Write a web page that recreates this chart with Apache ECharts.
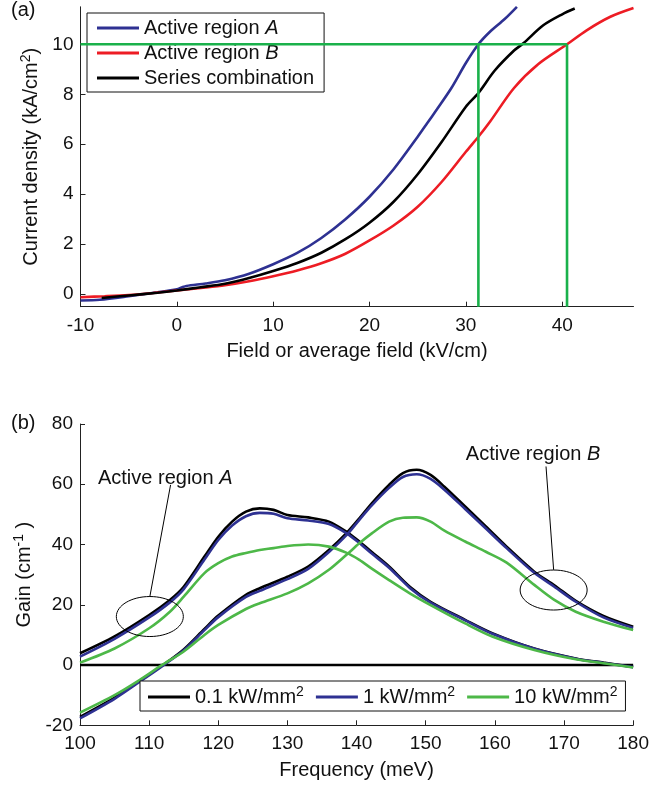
<!DOCTYPE html>
<html>
<head>
<meta charset="utf-8">
<script src="https://cdn.jsdelivr.net/npm/echarts@6/dist/echarts.min.js"></script>
<style>
  html, body { margin: 0; padding: 0; background: #fff; }
  #chart { width: 652px; height: 789px; }
</style>
</head>
<body>
<div id="chart"></div>
<script>
// ---- panel (a): current density vs field ----
const fieldA = [-10, -8, -5, -2, 0, 0.5, 1, 3, 5, 7.5, 10, 12.5, 15, 17.5, 20, 22.5, 25, 26, 27, 28.5, 30, 31.3, 32.5, 34, 35.3]
const currentA = [-0.25, -0.22, -0.08, 0.08, 0.2, 0.27, 0.33, 0.43, 0.56, 0.82, 1.2, 1.65, 2.25, 3.0, 3.9, 5.0, 6.3, 6.85, 7.4, 8.25, 9.25, 10, 10.5, 11.0, 11.5]

const fieldB = [-10, -7.5, -5, -2.5, 0, 2.5, 5, 7.5, 10, 12.5, 15, 17.5, 20, 22.5, 25, 27.5, 30, 31.3, 32.5, 35, 37.5, 40.5, 42.5, 45, 47.4]
const currentB = [-0.12, -0.08, -0.03, 0.05, 0.15, 0.25, 0.36, 0.52, 0.72, 0.95, 1.24, 1.62, 2.15, 2.75, 3.5, 4.5, 5.7, 6.3, 6.9, 8.25, 9.2, 10, 10.55, 11.1, 11.45]

const fieldS = [-7.8, -5, -2, 0, 2.5, 5, 7.5, 10, 12.5, 15, 17.5, 20, 22.5, 25, 27.5, 30, 31.3, 33, 35, 36, 38, 40, 41.3]
const currentS = [-0.15, -0.05, 0.06, 0.15, 0.28, 0.42, 0.65, 0.93, 1.25, 1.66, 2.2, 2.86, 3.7, 4.8, 6.1, 7.5, 8.05, 8.95, 9.75, 10.05, 10.75, 11.2, 11.43]

const guideJ = 10
const guideFields = [31.3, 40.5]

const ticksFieldA = [-10, 0, 10, 20, 30, 40]
const ticksCurrent = [0, 2, 4, 6, 8, 10]

// ---- panel (b): gain spectra ----
const freqA = [100, 105, 110, 113, 115, 118, 120, 122, 124, 126, 128, 130, 133, 136, 138.5, 140.4, 142.2, 144.7, 147.7, 150.7, 155.7, 159.7, 165.7, 171.7, 175.7, 180]
const gainA_01 = [3.9, 9.5, 16.6, 21.6, 26, 36, 42.6, 47.6, 50.9, 52, 51.5, 49.8, 49, 47.6, 44.3, 41, 37.5, 32.7, 26, 21, 15, 10.5, 5.5, 2.2, 0.8, -0.6]
const gainA_1 = [2.8, 8.7, 15.8, 20.8, 25.2, 35, 41.5, 46.3, 49.4, 50.5, 50.2, 48.7, 48, 46.8, 43.8, 40.5, 37, 32.3, 25.6, 20.7, 14.8, 10.3, 5.4, 2.1, 0.7, -0.7]
const gainA_10 = [0.8, 5.5, 12.2, 17.7, 22.7, 30.5, 33.8, 36, 37.2, 38.2, 38.8, 39.5, 40, 39.3, 37.3, 34.9, 32, 28.2, 23.8, 19.9, 13.8, 9.4, 5, 1.9, 0.6, -0.8]

const freqB = [100, 105, 108.6, 112, 115, 118, 120, 124, 126, 130, 133, 136, 138.5, 140.4, 142.2, 144.7, 146.7, 148.7, 150.7, 152.7, 155.7, 158.7, 161.7, 165.7, 168.6, 171.7, 175.7, 180]
const gainB_01 = [-17.2, -10.8, -5.3, 0, 5.2, 12, 16.4, 23.3, 25.5, 29.3, 32.7, 38.2, 43.7, 48.7, 53.7, 59.8, 63.7, 64.8, 63.1, 59.2, 52.6, 46, 39.3, 31, 26.5, 21.3, 16.3, 12.7]
const gainB_1 = [-17.7, -11.2, -5.6, -0.2, 4.9, 11.6, 15.9, 22.6, 24.6, 28.5, 31.9, 37.5, 43, 48.2, 53, 58.8, 62.4, 63.3, 61.8, 58.2, 51.8, 45.3, 38.8, 30.6, 26, 21, 15.8, 12.3]
const gainB_10 = [-15.8, -10, -5, 0.2, 4.5, 10, 13.3, 18.6, 20.5, 23.8, 27.1, 31.6, 36.5, 40.4, 43.7, 47.6, 48.9, 49, 47.6, 44.6, 41, 37.6, 34, 26.6, 21.6, 17.7, 14.4, 11.6]

const ticksFreq = [100, 110, 120, 130, 140, 150, 160, 170, 180]
const ticksGain = [-20, 0, 20, 40, 60, 80]

const FONT = 'Liberation Sans, Arial, sans-serif'
const BLUE = '#2e3192'
const RED = '#ed1c24'
const GREEN_A = '#1ab14b'
const GREEN_B = '#4db848'

const zip = (xs, ys) => xs.map((x, i) => [x, ys[i]])

const axisCommon = {
  axisLine: { onZero: false, lineStyle: { color: '#222', width: 1 } },
  axisTick: { inside: true, length: 5, lineStyle: { color: '#222' } },
  splitLine: { show: false },
  nameTextStyle: { fontFamily: FONT, fontSize: 20, color: '#111' },
}

const curve = (name, x, y, color, grid) => ({
  type: 'line', name, data: zip(x, y),
  xAxisIndex: grid, yAxisIndex: grid,
  symbol: 'none', smooth: 0.3,
  lineStyle: { color, width: 2.6 }, itemStyle: { color },
  z: 3,
})

const guide = (data) => ({
  type: 'line', name: 'guide', data, xAxisIndex: 0, yAxisIndex: 0,
  symbol: 'none', silent: true, lineStyle: { color: GREEN_A, width: 2.6 }, z: 4,
})

const supRich = {
  sup: { fontFamily: FONT, fontSize: 14, verticalAlign: 'top', lineHeight: 14, color: '#111' },
  m: { fontFamily: FONT, fontSize: 20, lineHeight: 24, color: '#111' },
}

const option = {
  animation: false,
  backgroundColor: '#fff',
  grid: [
    { left: 80.5, top: 6.8, width: 553, height: 299.9 },
    { left: 80, top: 424, width: 554, height: 301.3 },
  ],
  xAxis: [
    Object.assign({}, axisCommon, {
      type: 'value', gridIndex: 0, min: -10, max: 47.4, interval: 10,
      name: 'Field or average field (kV/cm)', nameLocation: 'middle', nameGap: 35,
      axisLabel: { customValues: ticksFieldA, fontFamily: FONT, fontSize: 19, color: '#111', margin: 10 },
      axisTick: Object.assign({}, axisCommon.axisTick, { customValues: ticksFieldA }),
    }),
    Object.assign({}, axisCommon, {
      type: 'value', gridIndex: 1, min: 100, max: 180, interval: 10,
      name: 'Frequency (meV)', nameLocation: 'middle', nameGap: 35,
      axisLabel: { customValues: ticksFreq, fontFamily: FONT, fontSize: 19, color: '#111', margin: 9 },
      axisTick: Object.assign({}, axisCommon.axisTick, { customValues: ticksFreq }),
    }),
  ],
  yAxis: [
    Object.assign({}, axisCommon, {
      type: 'value', gridIndex: 0, min: -0.5, max: 11.5,
      name: '{m|Current density (kA/cm}{sup|2}{m|)}', nameLocation: 'middle', nameGap: 36,
      nameTextStyle: Object.assign({}, axisCommon.nameTextStyle, { rich: supRich }),
      axisLabel: { customValues: ticksCurrent, fontFamily: FONT, fontSize: 19, color: '#111', margin: 7 },
      axisTick: Object.assign({}, axisCommon.axisTick, { customValues: ticksCurrent }),
    }),
    Object.assign({}, axisCommon, {
      type: 'value', gridIndex: 1, min: -20, max: 80, interval: 20,
      name: '{m|Gain (cm}{sup|-1}{m| )}', nameLocation: 'middle', nameGap: 42,
      nameTextStyle: Object.assign({}, axisCommon.nameTextStyle, { rich: supRich }),
      axisLabel: { customValues: ticksGain, fontFamily: FONT, fontSize: 19, color: '#111', margin: 7 },
      axisTick: Object.assign({}, axisCommon.axisTick, { customValues: ticksGain }),
    }),
  ],
  legend: [
    {
      data: ['Active region A', 'Active region B', 'Series combination'],
      orient: 'vertical', left: 87, top: 13, icon: 'rect',
      padding: [5, 10, 4, 10], itemGap: 5, itemWidth: 42, itemHeight: 3,
      borderColor: '#111', borderWidth: 1, backgroundColor: '#fff',
      formatter: (n) => n.replace(/ (A|B)$/, ' {i|$1}'),
      textStyle: {
        fontFamily: FONT, fontSize: 20, lineHeight: 20, color: '#111',
        rich: { i: { fontFamily: FONT, fontSize: 20, lineHeight: 20, fontStyle: 'italic', color: '#111' } },
      },
    },
    {
      data: ['0.1 kW/mm2', '1 kW/mm2', '10 kW/mm2'],
      orient: 'horizontal', left: 140, top: 681, icon: 'rect',
      padding: [4, 8, 4, 8], itemGap: 12, itemWidth: 42, itemHeight: 3,
      borderColor: '#111', borderWidth: 1, backgroundColor: '#fff',
      formatter: (n) => '{m|' + n.slice(0, -1) + '}{sup|2}',
      textStyle: { fontFamily: FONT, fontSize: 20, color: '#111', rich: supRich },
    },
  ],
  series: [
    curve('Active region A', fieldA, currentA, BLUE, 0),
    curve('Active region B', fieldB, currentB, RED, 0),
    curve('Series combination', fieldS, currentS, '#000', 0),
    guide([[-10, guideJ], [guideFields[1], guideJ]]),
    guide([[guideFields[0], -0.5], [guideFields[0], guideJ]]),
    guide([[guideFields[1], -0.5], [guideFields[1], guideJ]]),

    {
      type: 'line', name: 'zero', xAxisIndex: 1, yAxisIndex: 1,
      data: [[100, 0], [180, 0]], symbol: 'none', silent: true,
      lineStyle: { color: '#000', width: 2.6 }, z: 2,
    },
    curve('0.1 kW/mm2', freqA, gainA_01, '#000', 1),
    curve('0.1 kW/mm2', freqB, gainB_01, '#000', 1),
    curve('1 kW/mm2', freqA, gainA_1, BLUE, 1),
    curve('1 kW/mm2', freqB, gainB_1, BLUE, 1),
    curve('10 kW/mm2', freqA, gainA_10, GREEN_B, 1),
    curve('10 kW/mm2', freqB, gainB_10, GREEN_B, 1),
  ],
}

const chart = echarts.init(document.getElementById('chart'), null, { renderer: 'canvas', width: 652, height: 789 })
chart.setOption(option)

// annotations placed in data coordinates of panel (b)
const px = (f, g) => chart.convertToPixel({ gridIndex: 1 }, [f, g])
const annot = (id, center, lineFrom, lineTo, textAt, label) => {
  const c = px(center[0], center[1])
  const a = px(lineFrom[0], lineFrom[1])
  const b = px(lineTo[0], lineTo[1])
  const t = px(textAt[0], textAt[1])
  return [
    { type: 'ellipse', id: id + 'e', shape: { cx: c[0], cy: c[1], rx: 33.5, ry: 20 },
      style: { fill: 'none', stroke: '#000', lineWidth: 1 }, z: 10 },
    { type: 'line', id: id + 'l', shape: { x1: a[0], y1: a[1], x2: b[0], y2: b[1] },
      style: { stroke: '#000', lineWidth: 1 }, z: 10 },
    { type: 'text', id: id + 't', x: t[0], y: t[1], z: 10,
      style: { text: label, fontFamily: FONT, fontSize: 20, fill: '#111', verticalAlign: 'middle',
        rich: { i: { fontFamily: FONT, fontSize: 20, fontStyle: 'italic', fill: '#111' } } } },
  ]
}

chart.setOption({
  graphic: [
    { type: 'text', id: 'pa', left: 11, top: 0, style: { text: '(a)', fontFamily: FONT, fontSize: 20, fill: '#111' } },
    { type: 'text', id: 'pb', left: 11, top: 413, style: { text: '(b)', fontFamily: FONT, fontSize: 20, fill: '#111' } },
  ].concat(
    annot('A', [110.1, 16.1], [110.1, 22.7], [113.1, 59.8], [102.6, 62], 'Active region {i|A}'),
    annot('B', [168.5, 24.9], [168.5, 31.6], [167.4, 65.9], [155.8, 69.8], 'Active region {i|B}')
  ),
})
</script>
</body>
</html>
